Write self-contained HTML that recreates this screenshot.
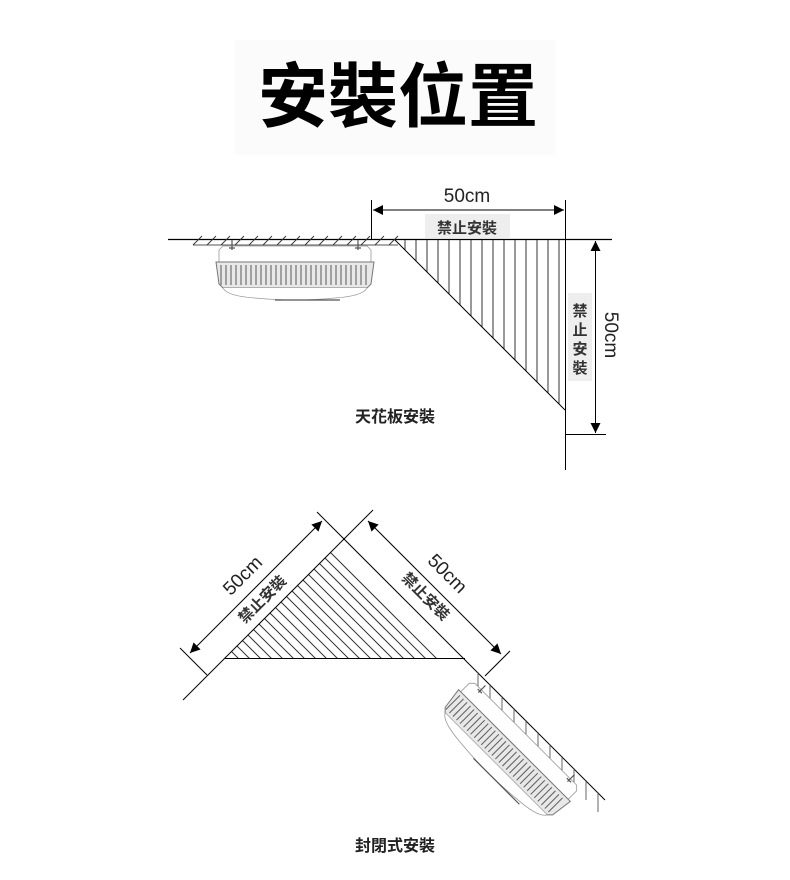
<!DOCTYPE html>
<html><head><meta charset="utf-8"><style>
html,body{margin:0;padding:0;background:#fff;}
svg{display:block;}
text{font-family:"Liberation Sans","Noto Sans CJK TC",sans-serif;}
.cj{font-family:"Liberation Sans","Noto Sans CJK TC",sans-serif;font-weight:bold;}
</style></head><body>
<svg width="790" height="880" viewBox="0 0 790 880" xmlns="http://www.w3.org/2000/svg">
<defs>
 <g id="dev">
  <path d="M-72,6 L72,6 L76,10 L76,22 L-76,22 L-76,10 Z" fill="#fff" stroke="#999" stroke-width="0.8"/>
  <path d="M-79,22 L79,22 L76,44 L72,48 L-72,48 L-76,44 Z" fill="#e8e8e8" stroke="#777" stroke-width="1"/>
  <g stroke="#666" stroke-width="1.1">
   <path d="M-74,25V45M-69,25V45M-64,25V45M-59,25V45M-54,25V45M-49,25V45M-44,25V45M-39,25V45M-34,25V45M-29,25V45M-24,25V45M-19,25V45M-14,25V45M-9,25V45M-4,25V45M1,25V45M6,25V45M11,25V45M16,25V45M21,25V45M26,25V45M31,25V45M36,25V45M41,25V45M46,25V45M51,25V45M56,25V45M61,25V45M66,25V45M71,25V45"/>
  </g>
  <path d="M-72,48 Q-68,56 -40,58 Q-20,60 0,60 Q20,60 40,58 Q68,56 72,48" fill="#fff" stroke="#999" stroke-width="0.8"/>
  <line x1="-20" y1="60" x2="45" y2="60" stroke="#555" stroke-width="1.2"/>
  <path d="M-63,0V10M-66,8H-60M63,0V10M60,8H66" stroke="#555" stroke-width="1.2"/>
 </g>
 <clipPath id="t1"><path d="M395,240 L565,240 L565,410 Z"/></clipPath>
 <clipPath id="t2"><path d="M225,658 L345,538 L465,658 Z"/></clipPath>
 <marker id="ar" viewBox="0 0 10 10" refX="10" refY="5" markerWidth="10" markerHeight="10" markerUnits="userSpaceOnUse" orient="auto-start-reverse"><path d="M0,0 L10,5 L0,10 Z" fill="#000"/></marker>
</defs>

<rect x="235" y="40" width="320" height="115" fill="#fbfbfb"/>
<text x="398" y="121" text-anchor="middle" class="cj" font-size="70" fill="#000">安裝位置</text>

<line x1="168" y1="239.5" x2="612" y2="239.5" stroke="#000" stroke-width="1.2"/>
<path d="M193,245 L398,245" stroke="#555" stroke-width="1"/>
<g stroke="#333" stroke-width="0.9">
<path d="M193,245l9,-9M207,245l9,-9M221,245l9,-9M235,245l9,-9M249,245l9,-9M263,245l9,-9M277,245l9,-9M291,245l9,-9M305,245l9,-9M319,245l9,-9M333,245l9,-9M347,245l9,-9M361,245l9,-9M375,245l9,-9M389,245l9,-9"/>
</g>
<use href="#dev" transform="translate(295,240)"/>
<g clip-path="url(#t1)" stroke="#333" stroke-width="1">
<path d="M405,240V420M416,240V420M427,240V420M438,240V420M449,240V420M460,240V420M471,240V420M482,240V420M493,240V420M504,240V420M515,240V420M526,240V420M537,240V420M548,240V420M559,240V420"/>
</g>
<path d="M395,240 L565,410" stroke="#000" stroke-width="1"/>
<line x1="565.5" y1="200" x2="565.5" y2="470" stroke="#000" stroke-width="1"/>
<line x1="371.5" y1="200" x2="371.5" y2="240" stroke="#000" stroke-width="1"/>
<line x1="373" y1="210" x2="564" y2="210" stroke="#000" stroke-width="1" marker-start="url(#ar)" marker-end="url(#ar)"/>
<text x="467" y="202" text-anchor="middle" font-size="19" fill="#222">50cm</text>
<rect x="425" y="214" width="85" height="24" fill="#eee"/>
<text x="467" y="233" text-anchor="middle" class="cj" font-size="15" fill="#333">禁止安裝</text>
<line x1="566" y1="434.5" x2="606" y2="434.5" stroke="#000" stroke-width="1"/>
<line x1="595.5" y1="241" x2="595.5" y2="433" stroke="#000" stroke-width="1" marker-start="url(#ar)" marker-end="url(#ar)"/>
<rect x="568" y="293" width="24" height="88" fill="#eee"/>
<g class="cj" font-size="15" fill="#333" text-anchor="middle">
<text x="580" y="316">禁</text><text x="580" y="335">止</text><text x="580" y="354">安</text><text x="580" y="373">裝</text>
</g>
<text transform="translate(605,335) rotate(90)" text-anchor="middle" font-size="19" fill="#222">50cm</text>
<text x="395" y="422" text-anchor="middle" class="cj" font-size="16" fill="#222">天花板安裝</text>

<g clip-path="url(#t2)" stroke="#333" stroke-width="1">
<path d="M120,540l130,130M131,540l130,130M142,540l130,130M153,540l130,130M164,540l130,130M175,540l130,130M186,540l130,130M197,540l130,130M208,540l130,130M219,540l130,130M230,540l130,130M241,540l130,130M252,540l130,130M263,540l130,130M274,540l130,130M285,540l130,130M296,540l130,130M307,540l130,130M318,540l130,130"/>
</g>
<path d="M183,700 L345,538" stroke="#000" stroke-width="1"/>
<path d="M225,658.5 L465,658.5" stroke="#000" stroke-width="1"/>
<path d="M317,512 L605,800" stroke="#000" stroke-width="1"/>
<path d="M373,510 L343,540" stroke="#000" stroke-width="1"/>
<path d="M180,648 L207,675" stroke="#000" stroke-width="1"/>
<path d="M510,651 L485,676" stroke="#000" stroke-width="1"/>
<line x1="190" y1="653" x2="322" y2="521" stroke="#000" stroke-width="1" marker-start="url(#ar)" marker-end="url(#ar)"/>
<line x1="368" y1="521" x2="501" y2="654" stroke="#000" stroke-width="1" marker-start="url(#ar)" marker-end="url(#ar)"/>
<text transform="translate(247,580) rotate(-45)" text-anchor="middle" font-size="19" fill="#222">50cm</text>
<text transform="translate(266,603) rotate(-45)" text-anchor="middle" class="cj" font-size="15" fill="#333">禁止安裝</text>
<text transform="translate(443,578) rotate(45)" text-anchor="middle" font-size="19" fill="#222">50cm</text>
<text transform="translate(422,600) rotate(45)" text-anchor="middle" class="cj" font-size="15" fill="#333">禁止安裝</text>
<g stroke="#555" stroke-width="0.9">
<path d="M478,672v20M490,684v20M502,696v20M514,708v20M526,720v20M538,732v20M550,744v20M562,756v20M574,768v20M586,780v20M598,792v20"/>
</g>
<use href="#dev" transform="translate(530,730) rotate(45)"/>
<text x="395" y="851" text-anchor="middle" class="cj" font-size="16" fill="#222">封閉式安裝</text>
</svg>
</body></html>
